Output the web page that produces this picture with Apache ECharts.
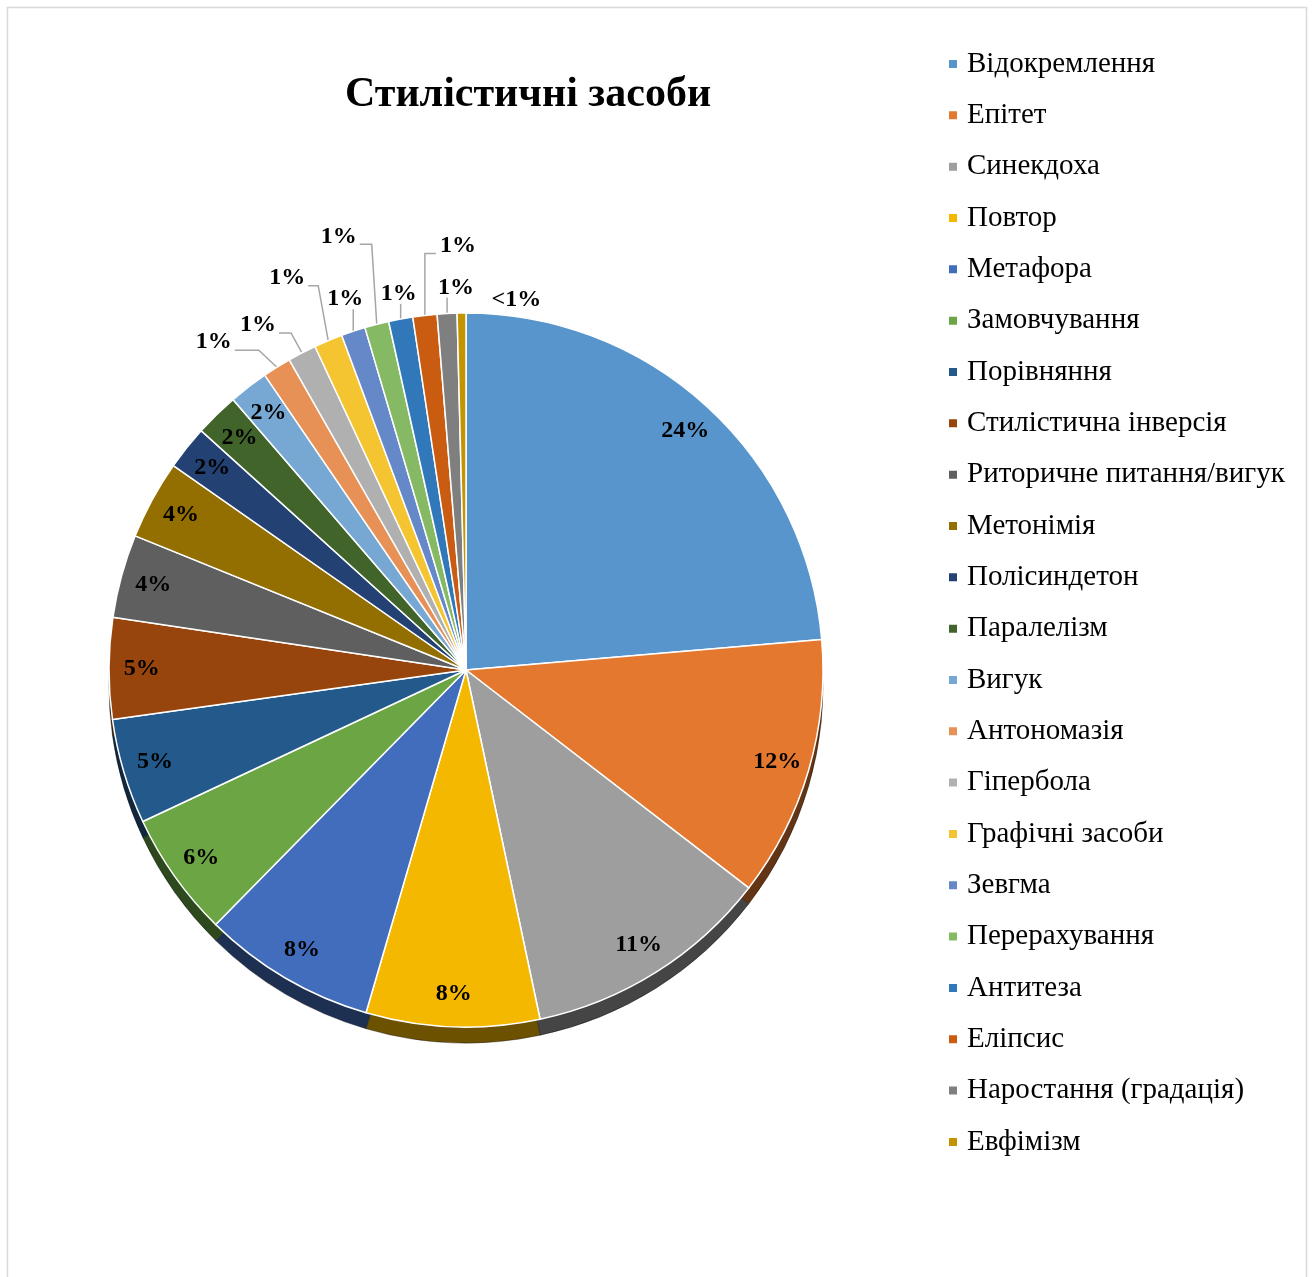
<!DOCTYPE html>
<html>
<head>
<meta charset="utf-8">
<script src="https://cdn.jsdelivr.net/npm/echarts@6/dist/echarts.min.js"></script>
<style>
    html, body { margin: 0; padding: 0; background: #fff; }
    #main { width: 1312px; height: 1277px; }
</style>
</head>
<body>
<div id="main"></div>
<script>
    'use strict';

    // share of each device, %
    var categories = [
        'Відокремлення', 'Епітет', 'Синекдоха', 'Повтор', 'Метафора', 'Замовчування',
        'Порівняння', 'Стилістична інверсія', 'Риторичне питання/вигук', 'Метонімія',
        'Полісиндетон', 'Паралелізм', 'Вигук', 'Антономазія', 'Гіпербола',
        'Графічні засоби', 'Зевгма', 'Перерахування', 'Антитеза', 'Еліпсис',
        'Наростання (градація)', 'Евфімізм'
    ];
    var values = [
        23.8, 11.9, 11.3, 7.9, 7.9, 5.7,
        4.8, 4.6, 3.8, 3.6,
        2.0, 2.0, 1.8, 1.3, 1.3,
        1.3, 1.1, 1.1, 1.1, 1.1,
        0.9, 0.4
    ];
    var colors = [
        '#5B9BD5', '#ED7D31', '#A5A5A5', '#FFC000', '#4472C4', '#70AD47',
        '#255E91', '#9E480E', '#636363', '#997300',
        '#264478', '#43682B', '#7CAFDD', '#F1975A', '#B7B7B7',
        '#FFCD33', '#698ED0', '#8CC168', '#327DC2', '#D26012',
        '#848484', '#CC9A00'
    ];

    var CENTER = [466, 670];
    var R = 357;
    var DEPTH = 16;
    var SERIF = "'Liberation Serif', 'Times New Roman', serif";

    // leader lines of the small outside labels: bend/lift/run from the slice edge, label side
    var leaders = {
        13: { bend: -18, lift: 17, run: -24, side: 'left' },
        14: { bend: -11, lift: 20, run: -12, side: 'left' },
        15: { bend: -10, lift: 55, run: -10, side: 'left' },
        16: { bend: 0, lift: 22, run: 0, side: 'top', shift: -8 },
        17: { bend: -5, lift: 80, run: -12, side: 'left' },
        18: { bend: 0, lift: 15, run: 0, side: 'top', shift: -2 },
        19: { bend: 0, lift: 62, run: 11, side: 'right' },
        20: { bend: 0, lift: 16, run: 0, side: 'top', shift: 9 },
        21: { none: true }
    };

    function darken(hex, k) {
        var n = parseInt(hex.slice(1), 16);
        var r = Math.round(((n >> 16) & 255) * k);
        var g = Math.round(((n >> 8) & 255) * k);
        var b = Math.round((n & 255) * k);
        return 'rgb(' + r + ',' + g + ',' + b + ')';
    }

    function pctText(p) {
        return p.percent < 0.5 ? '<1%' : Math.round(p.percent) + '%';
    }

    var isSmall = function (v) { return v < 1.5; };

    var mainData = categories.map(function (name, i) {
        return {
            name: name,
            value: values[i],
            itemStyle: { color: darken(colors[i], 0.96) },
            label: { show: isSmall(values[i]) },
            labelLine: { show: isSmall(values[i]) && !(leaders[i] && leaders[i].none) }
        };
    });

    var sideData = categories.map(function (name, i) {
        return { name: name, value: values[i], itemStyle: { color: darken(colors[i], 0.42) } };
    });

    var labelData = categories.map(function (name, i) {
        return {
            name: name,
            value: values[i],
            label: { show: !isSmall(values[i]) }
        };
    });

    function smallLabelLayout(params) {
        if (params.seriesIndex !== 0) return;
        var l = leaders[params.dataIndex];
        var pts = params.labelLinePoints;
        if (!l || !pts) return;
        var p0 = pts[0];
        if (l.none) {
            return { x: p0[0] + 30, y: p0[1] - 13, align: 'left', verticalAlign: 'middle' };
        }
        var p1 = [p0[0] + l.bend, p0[1] - l.lift];
        var p2 = [p1[0] + l.run, p1[1]];
        var res = { labelLinePoints: [p0, p1, p2] };
        if (l.side === 'left') {
            res.x = p2[0] - 3; res.y = p2[1] - 8; res.align = 'right'; res.verticalAlign = 'middle';
        } else if (l.side === 'right') {
            res.x = p2[0] + 4; res.y = p2[1] - 8; res.align = 'left'; res.verticalAlign = 'middle';
        } else {
            res.x = p1[0] + (l.shift || 0); res.y = p1[1] + 2; res.align = 'center'; res.verticalAlign = 'bottom';
        }
        return res;
    }

    var option = {
        backgroundColor: '#fff',
        animation: false,
        graphic: [{
            type: 'rect',
            shape: { x: 7.5, y: 7.5, width: 1299, height: 1300 },
            style: { fill: 'none', stroke: '#D9D9D9', lineWidth: 1.5 },
            silent: true
        }],
        title: {
            text: 'Стилістичні засоби',
            left: 345,
            top: 74,
            padding: 0,
            textStyle: {
                fontFamily: SERIF,
                fontSize: 42,
                fontWeight: 'bold',
                color: '#000'
            }
        },
        legend: {
            orient: 'vertical',
            left: 947,
            top: 49.5,
            padding: 0,
            icon: 'rect',
            itemWidth: 10,
            itemHeight: 10,
            itemGap: 22.33,
            selectedMode: false,
            data: categories,
            textStyle: {
                fontFamily: SERIF,
                fontSize: 29,
                lineHeight: 29,
                color: '#000',
                padding: [0, 0, 0, 4]
            }
        },
        series: [
            {
                name: 'main',
                type: 'pie',
                center: CENTER,
                radius: R,
                startAngle: 90,
                z: 3,
                silent: true,
                avoidLabelOverlap: false,
                itemStyle: { borderColor: '#fff', borderWidth: 1.5 },
                label: {
                    position: 'outside',
                    formatter: pctText,
                    fontFamily: SERIF,
                    fontSize: 24,
                    fontWeight: 'bold',
                    color: '#000'
                },
                labelLine: {
                    length: 14,
                    length2: 12,
                    lineStyle: { color: '#A6A6A6', width: 1.5 }
                },
                labelLayout: smallLabelLayout,
                data: mainData
            },
            {
                name: 'side',
                type: 'pie',
                center: [CENTER[0], CENTER[1] + DEPTH],
                radius: R,
                startAngle: 90,
                z: 1,
                silent: true,
                label: { show: false },
                labelLine: { show: false },
                itemStyle: { borderColor: 'rgba(0,0,0,0.35)', borderWidth: 1 },
                data: sideData
            },
            {
                name: 'labels',
                type: 'pie',
                center: CENTER,
                radius: [R * 0.8, R],
                startAngle: 90,
                z: 4,
                silent: true,
                itemStyle: { color: 'rgba(0,0,0,0)' },
                label: {
                    position: 'inside',
                    formatter: pctText,
                    fontFamily: SERIF,
                    fontSize: 24,
                    fontWeight: 'bold',
                    color: '#000'
                },
                labelLine: { show: false },
                data: labelData
            }
        ]
    };

    var chart = echarts.init(document.getElementById('main'), null, { renderer: 'canvas' });
    chart.setOption(option);
</script>
</body>
</html>
